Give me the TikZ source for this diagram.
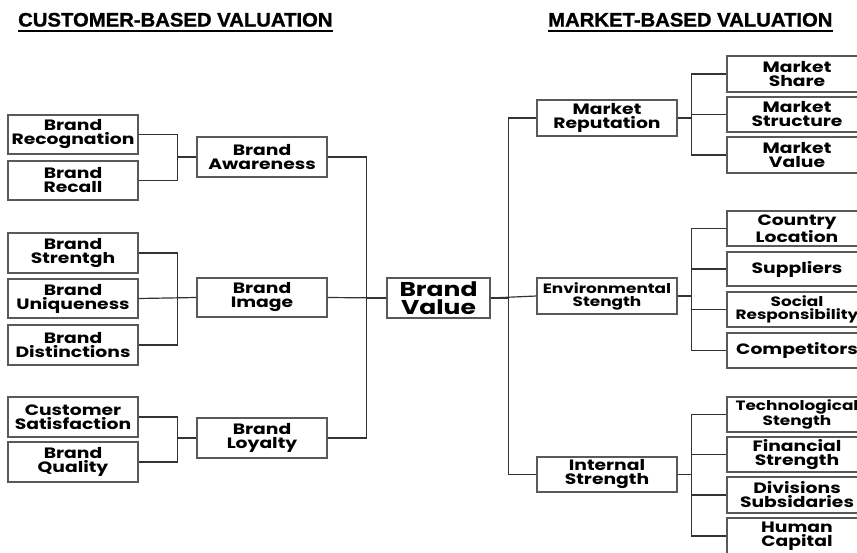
\documentclass[tikz,border=0pt]{standalone}
\usepackage{fontspec}
\newfontfamily\boxfont{Poppins}[FakeStretch=1.25]
\newfontfamily\titlefont{Liberation Sans}[FakeStretch=1.04,FakeBold=1.2]
\tikzset{
  box/.style={draw=black!65, line width=1.1pt, fill=white, inner sep=0pt,
    align=center, font=\boxfont\bfseries\fontsize{15}{14}\selectfont},
  lbox/.style={box, minimum width=130pt},
  mbox/.style={box, minimum width=140pt},
  small/.style={font=\boxfont\bfseries\fontsize{13.5}{13}\selectfont},
  conn/.style={draw=black!80, line width=1.2pt},
  ttl/.style={font=\titlefont\bfseries\fontsize{19.5}{22}\selectfont, inner sep=0pt, anchor=base west},
}
\begin{document}
\begin{tikzpicture}[x=1pt,y=-1pt]
\useasboundingbox (0,0) rectangle (857,552);
\clip (0,0) rectangle (857,552);
% titles
\node[ttl] (t1) at (18,26.5) {CUSTOMER-BASED VALUATION};
\node[ttl] (t2) at (548,26.5) {MARKET-BASED VALUATION};
\draw[line width=1.8pt] ([yshift=-4.5pt]t1.base west) -- ([yshift=-4.5pt]t1.base east);
\draw[line width=1.8pt] ([yshift=-4.5pt]t2.base west) -- ([yshift=-4.5pt]t2.base east);
% left column
\node[lbox, minimum height=39pt] (rec) at (73,134.5) {Brand\\Recognation};
\node[lbox, minimum height=39pt] (recall) at (73,180.5) {Brand\\Recall};
\node[lbox, minimum height=40pt] (str) at (73,253) {Brand\\Strentgh};
\node[lbox, minimum height=39pt] (uniq) at (73,298.5) {Brand\\Uniqueness};
\node[lbox, minimum height=40pt] (dist) at (73,345) {Brand\\Distinctions};
\node[lbox, minimum height=40pt] (cs) at (73,417) {Customer\\Satisfaction};
\node[lbox, minimum height=40pt] (qual) at (73,462) {Brand\\Quality};
% middle column
\node[lbox, minimum height=40pt] (aware) at (262,157) {Brand\\Awareness};
\node[lbox, minimum height=39pt] (image) at (262,297.5) {Brand\\Image};
\node[lbox, minimum height=40pt] (loyal) at (262,438) {Brand\\Loyalty};
% centre
\node[box, minimum width=103pt, minimum height=40pt, font=\boxfont\bfseries\fontsize{20}{18.5}\selectfont] (value) at (438.5,298) {Brand\\Value};
% market column
\node[mbox, minimum height=36pt] (rep) at (607,118) {Market\\Reputation};
\node[mbox, small, minimum height=36pt] (env) at (607,296) {Environmental\\Stength};
\node[mbox, minimum height=35pt] (int) at (607,474.5) {Internal\\Strength};
% right column
\node[mbox, minimum height=36pt] (share) at (797,74) {Market\\Share};
\node[mbox, minimum height=35pt] (struct) at (797,114.5) {Market\\Structure};
\node[mbox, minimum height=36pt] (mval) at (797,155) {Market\\Value};
\node[mbox, minimum height=35pt] (country) at (797,228.5) {Country\\Location};
\node[mbox, minimum height=34pt] (supp) at (797,269) {Suppliers};
\node[mbox, small, minimum height=35pt] (social) at (797,309.5) {Social\\Responsibility};
\node[mbox, minimum height=35pt] (comp) at (797,350.5) {Competitors};
\node[mbox, small, minimum height=35pt] (tech) at (797,414.5) {Technological\\Stength};
\node[mbox, minimum height=35pt] (fin) at (797,454.5) {Financial\\Strength};
\node[mbox, minimum height=36pt] (div) at (797,495) {Divisions\\Subsidaries};
\node[mbox, minimum height=36pt] (hum) at (797,536) {Human\\Capital};
% left connectors
\draw[conn] (rec.east) -- ++(39,0) |- (aware.west);
\draw[conn] (recall.east) -- ++(39,0) |- (aware.west);
\draw[conn] (str.east) -- ++(39,0) |- (image.west);
\draw[conn] (uniq.east) -- (image.west);
\draw[conn] (dist.east) -- ++(39,0) |- (image.west);
\draw[conn] (cs.east) -- ++(39,0) |- (loyal.west);
\draw[conn] (qual.east) -- ++(39,0) |- (loyal.west);
\draw[conn] (aware.east) -- ++(39,0) |- (value.west);
\draw[conn] (image.east) -- (value.west);
\draw[conn] (loyal.east) -- ++(39,0) |- (value.west);
% right connectors
\draw[conn] (value.east) -- ++(18,0) |- (rep.west);
\draw[conn] (value.east) -- (env.west);
\draw[conn] (value.east) -- ++(18,0) |- (int.west);
\foreach \c in {share,struct,mval} \draw[conn] (rep.east) -- ++(14,0) |- (\c.west);
\foreach \c in {country,supp,social,comp} \draw[conn] (env.east) -- ++(14,0) |- (\c.west);
\foreach \c in {tech,fin,div,hum} \draw[conn] (int.east) -- ++(14,0) |- (\c.west);
\end{tikzpicture}
\end{document}
